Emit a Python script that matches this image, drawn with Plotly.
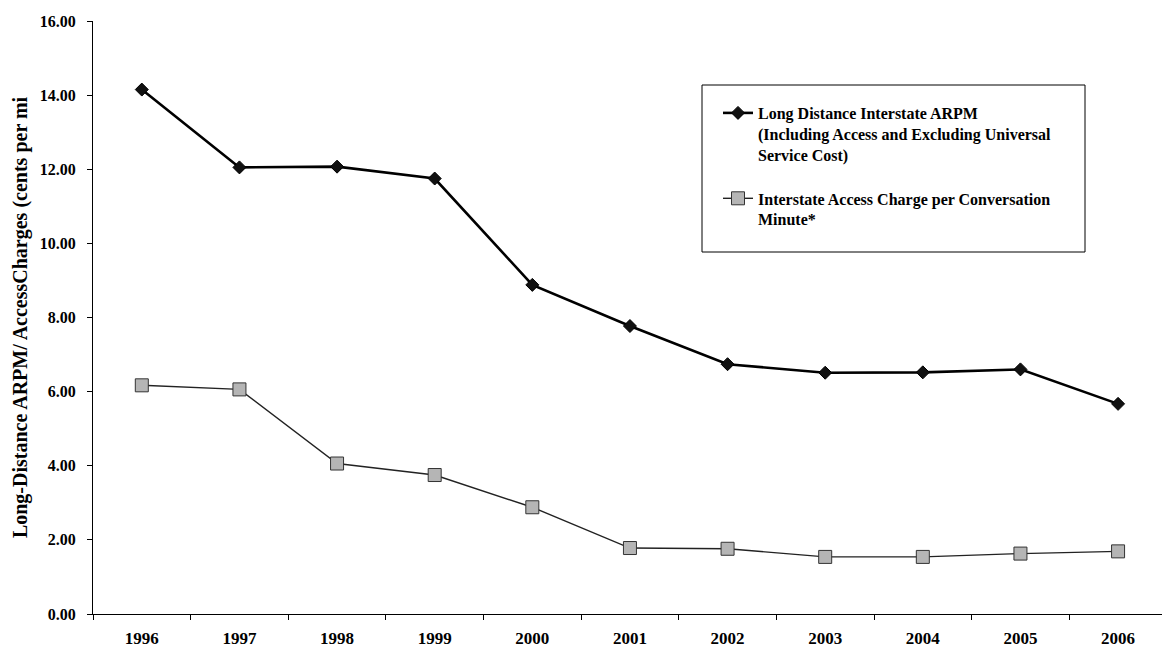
import plotly.graph_objects as go

years = ["1996", "1997", "1998", "1999", "2000", "2001", "2002", "2003", "2004", "2005", "2006"]
arpm = [14.15, 12.05, 12.07, 11.75, 8.88, 7.77, 6.74, 6.51, 6.52, 6.60, 5.67]
access = [6.17, 6.06, 4.06, 3.75, 2.88, 1.78, 1.76, 1.54, 1.54, 1.63, 1.69]

name_arpm = "Long Distance Interstate ARPM<br>(Including Access and Excluding Universal<br>Service Cost)"
name_access = "Interstate Access Charge per Conversation<br>Minute*"
y_title = "Long-Distance ARPM/ AccessCharges (cents per mi"
y_ticks = [0, 2, 4, 6, 8, 10, 12, 14, 16]

SERIF = "Liberation Serif, Times New Roman, serif"

fig = go.Figure()
fig.add_trace(go.Scatter(
    x=years, y=arpm, name=name_arpm, mode="lines+markers", legendgroup="a",
    line=dict(color="black", width=2.6),
    marker=dict(symbol="diamond", size=10, color="#111111", line=dict(color="black", width=1)),
))
fig.add_trace(go.Scatter(
    x=years, y=access, name=name_access, mode="lines+markers", legendgroup="b",
    line=dict(color="#222222", width=1.4),
    marker=dict(symbol="square", size=13, color="#b5b5b5", line=dict(color="#333333", width=1)),
))

L, T, B = 93, 21, 36
W, H = 1162, 650
pw, ph = W - L, H - T - B

def px_x(p):
    return (p - L) / pw

def px_y(p):
    return (H - B - p) / ph

fig.add_shape(type="rect", xref="paper", yref="paper",
              x0=px_x(702), x1=px_x(1085), y0=px_y(252), y1=px_y(85),
              line=dict(color="black", width=1), fillcolor="white", layer="below")

fig.update_layout(
    width=W, height=H,
    margin=dict(l=L, r=0, t=T, b=B),
    paper_bgcolor="white", plot_bgcolor="white",
    font=dict(family=SERIF, color="black", size=16, weight="bold"),
    showlegend=True,
    legend=dict(
        x=px_x(718), y=px_y(96), xanchor="left", yanchor="top",
        bgcolor="rgba(0,0,0,0)", borderwidth=0,
        font=dict(family=SERIF, size=16, color="black", weight="bold"),
        valign="top", tracegroupgap=20,
    ),
    xaxis=dict(
        type="category", range=[-0.5, 10.45],
        showline=True, linecolor="black", linewidth=1,
        ticks="outside", ticklen=5, tickcolor="black", tickson="boundaries",
        showgrid=False, zeroline=False,
        tickfont=dict(family=SERIF, size=17, weight="bold"),
        ticklabelstandoff=9,
    ),
    yaxis=dict(
        range=[0, 16], tickvals=y_ticks, tickformat=".2f",
        showline=True, linecolor="black", linewidth=1,
        ticks="outside", ticklen=5, tickcolor="black",
        showgrid=False, zeroline=False,
        tickfont=dict(family=SERIF, size=16, weight="bold"),
        ticklabelstandoff=8,
        title=dict(text=y_title, font=dict(family=SERIF, size=20, weight="bold"), standoff=6),
    ),
)

fig.write_html("out.html")
